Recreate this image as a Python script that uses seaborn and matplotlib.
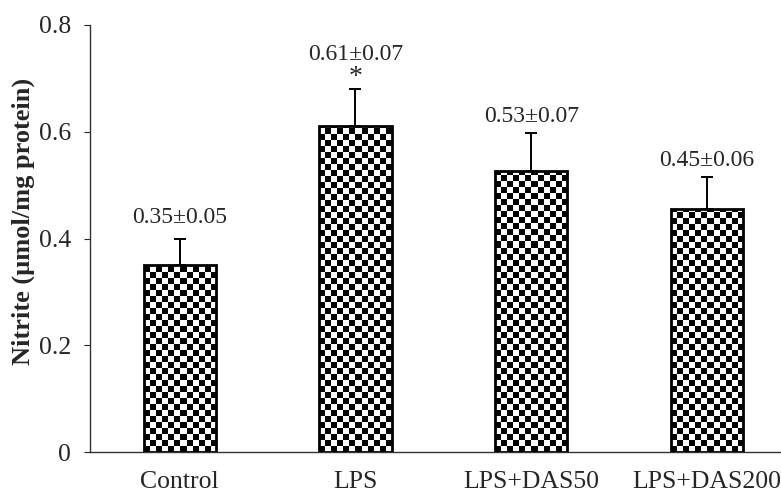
import numpy as np
import pandas as pd
import seaborn as sns
import matplotlib.pyplot as plt

# Values
groups = ['Control', 'LPS', 'LPS+DAS50', 'LPS+DAS200']
means = [0.35, 0.61, 0.527, 0.455]
sems = [0.05, 0.07, 0.07, 0.06]
labels = ['0.35±0.05', '0.61±0.07', '0.53±0.07', '0.45±0.06']
stars = ['', '*', '', '']

sns.set_style('white')
plt.rcParams['font.family'] = ['Liberation Serif', 'DejaVu Serif']

df = pd.DataFrame({'group': groups, 'mean': means, 'sem': sems})

fig = plt.figure(figsize=(7.81, 4.97), dpi=100)
ax = fig.add_axes([0.1152, 0.0905, 0.8848, 0.8592])

sns.barplot(data=df, x='group', y='mean', color='white', edgecolor='black',
            linewidth=2, width=0.41, ax=ax, zorder=3)

ax.set_xlim(-0.51, 3.42)
ax.set_ylim(0, 0.8)

# upper error bars only
centers = [p.get_x() + p.get_width() / 2 for p in ax.patches]
ax.errorbar(centers, df['mean'], yerr=[np.zeros(len(sems)), df['sem']],
            fmt='none', ecolor='black', elinewidth=1.4, capsize=4,
            capthick=1.4, zorder=2)

# checkerboard fill, clipped to each bar
fig.canvas.draw()
cell = 6.0
for p in ax.patches:
    x0, y0, w, h = p.get_x(), p.get_y(), p.get_width(), p.get_height()
    (px0, py0), (px1, py1) = ax.transData.transform([(x0, y0), (x0 + w, y0 + h)])
    nx = max(1, int(round((px1 - px0) / cell)))
    ny = int(np.ceil((py1 - py0) / cell)) + 1
    hcell = (py1 - py0) / cell
    board = (np.add.outer(np.arange(ny), np.arange(nx)) % 2).astype(float)
    im = ax.imshow(board, cmap='gray', vmin=0, vmax=1, origin='lower',
                   extent=[x0, x0 + w, y0, y0 + h * ny / hcell],
                   interpolation='nearest', aspect='auto', zorder=2.5)
    im.set_clip_path(p)
    p.set_facecolor('none')

ax.set_xlim(-0.51, 3.42)
ax.set_ylim(0, 0.8)

for c, m, s, lab, st in zip(centers, means, sems, labels, stars):
    top = m + s
    if st:
        ax.annotate(st, (c, top), xytext=(0, 8), textcoords='offset points',
                    ha='center', va='center', fontsize=20)
        off = 25
    elif c < 0.5:
        off = 15
    else:
        off = 12
    ax.annotate(lab, (c, top), xytext=(0, off), textcoords='offset points',
                ha='center', va='center', fontsize=17)

ax.set_yticks([0, 0.2, 0.4, 0.6, 0.8])
ax.set_yticklabels(['0', '0.2', '0.4', '0.6', '0.8'])
ax.tick_params(axis='y', direction='out', length=4.5, width=0.8, labelsize=18.5,
               left=True, pad=9)
ax.tick_params(axis='x', length=0, labelsize=18.5, pad=14)
ax.set_xlabel('')
ax.set_ylabel('Nitrite (µmol/mg protein)', fontsize=19, fontweight='bold')
ax.yaxis.set_label_coords(-0.08, 0.54)

sns.despine(ax=ax)
for side in ['left', 'bottom']:
    ax.spines[side].set_color('#333333')
    ax.spines[side].set_linewidth(1.0)

fig.savefig('out.png', dpi=100)
